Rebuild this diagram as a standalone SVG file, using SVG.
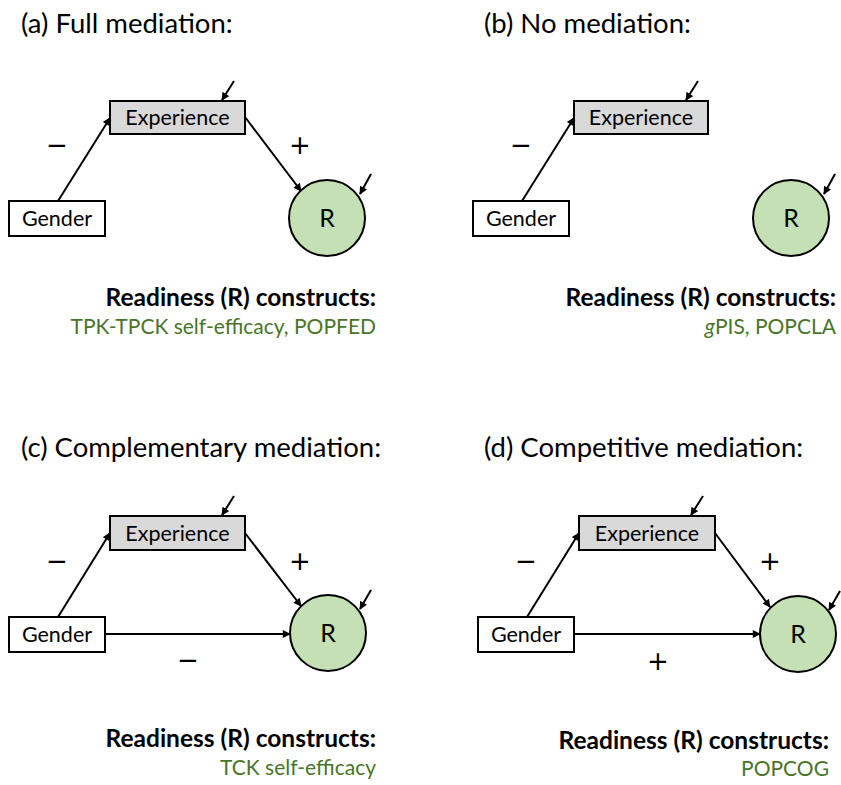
<svg xmlns="http://www.w3.org/2000/svg" width="841" height="785" viewBox="0 0 841 785">
<defs>
<marker id="ah" viewBox="0 0 10 10" refX="9" refY="5" markerWidth="9" markerHeight="8" markerUnits="userSpaceOnUse" orient="auto">
<path d="M0,0 L10,5 L0,10 z" fill="#000"/>
</marker>
<style>
text{font-family:Lato,"Noto Sans","DejaVu Sans",sans-serif;fill:#000}
.title{font-size:27.5px}
.lbl{font-size:21.5px;text-anchor:middle}
.r{font-size:25px;text-anchor:middle}
.sign{font-family:"DejaVu Sans",sans-serif;font-size:26px;text-anchor:middle}
.hd{font-size:24.5px;font-weight:bold;text-anchor:end}
.gr{font-size:21px;fill:#4a7529;text-anchor:end}
.exp{fill:#d9d9d9;stroke:#000;stroke-width:2}
.gen{fill:#fff;stroke:#000;stroke-width:2}
.circ{fill:#c5e0b4;stroke:#000;stroke-width:2}
.ln{stroke:#000;stroke-width:2;fill:none;marker-end:url(#ah)}
</style>
</defs>
<rect width="841" height="785" fill="#fff"/>

<!-- Titles -->
<text class="title" x="21" y="33">(a) Full mediation:</text>
<text class="title" x="484" y="33">(b) No mediation:</text>
<text class="title" x="21" y="457">(c) Complementary mediation:</text>
<text class="title" x="484" y="457">(d) Competitive mediation:</text>

<!-- Panel a -->
<g id="a-experience"><rect class="exp" x="110" y="101" width="135" height="33"/><text class="lbl" x="177.5" y="125">Experience</text></g>
<g id="a-gender"><rect class="gen" x="9" y="201" width="96" height="35"/><text class="lbl" x="57" y="226">Gender</text></g>
<g id="a-r"><circle class="circ" cx="327" cy="218" r="38"/><text class="r" x="327" y="227">R</text></g>
<g id="a-readiness"><text class="hd" x="376" y="306">Readiness (R) constructs:</text><text class="gr" x="376" y="334">TPK-TPCK self-efficacy, POPFED</text></g>

<!-- Panel b -->
<g id="b-experience"><rect class="exp" x="574" y="101" width="134" height="33"/><text class="lbl" x="641" y="125">Experience</text></g>
<g id="b-gender"><rect class="gen" x="473" y="201" width="96" height="35"/><text class="lbl" x="521" y="226">Gender</text></g>
<g id="b-r"><circle class="circ" cx="791" cy="218" r="38"/><text class="r" x="791" y="227">R</text></g>
<g id="b-readiness"><text class="hd" x="836" y="306">Readiness (R) constructs:</text><text class="gr" x="836" y="334"><tspan font-style="italic">g</tspan>PIS, POPCLA</text></g>

<!-- Panel c -->
<g id="c-experience"><rect class="exp" x="110" y="516" width="135" height="34"/><text class="lbl" x="177.5" y="541">Experience</text></g>
<g id="c-gender"><rect class="gen" x="9" y="617" width="96" height="35"/><text class="lbl" x="57" y="642">Gender</text></g>
<g id="c-r"><circle class="circ" cx="328" cy="633" r="38"/><text class="r" x="328" y="642">R</text></g>
<g id="c-readiness"><text class="hd" x="376" y="747">Readiness (R) constructs:</text><text class="gr" x="376" y="775">TCK self-efficacy</text></g>

<!-- Panel d -->
<g id="d-experience"><rect class="exp" x="579" y="516" width="136" height="34"/><text class="lbl" x="647" y="541">Experience</text></g>
<g id="d-gender"><rect class="gen" x="478" y="617" width="96" height="35"/><text class="lbl" x="526" y="642">Gender</text></g>
<g id="d-r"><circle class="circ" cx="798" cy="634" r="38"/><text class="r" x="798" y="643">R</text></g>
<g id="d-readiness"><text class="hd" x="829" y="749">Readiness (R) constructs:</text><text class="gr" x="829" y="776">POPCOG</text></g>

<!-- Connectors -->
<g id="connectors">
<line class="ln" x1="58" y1="201" x2="110" y2="118"/>
<line class="ln" x1="245" y1="117" x2="301" y2="191"/>
<line class="ln" x1="234" y1="81" x2="222" y2="100"/>
<line class="ln" x1="371" y1="174" x2="360" y2="194"/>

<line class="ln" x1="522" y1="201" x2="574" y2="118"/>
<line class="ln" x1="698" y1="81" x2="686" y2="100"/>
<line class="ln" x1="835" y1="174" x2="824" y2="194"/>

<line class="ln" x1="58" y1="617" x2="110" y2="533"/>
<line class="ln" x1="245" y1="533" x2="301" y2="606"/>
<line class="ln" x1="234" y1="496" x2="222" y2="515"/>
<line class="ln" x1="371" y1="590" x2="360" y2="609"/>
<line class="ln" x1="105" y1="634" x2="290" y2="634"/>

<line class="ln" x1="527" y1="617" x2="579" y2="533"/>
<line class="ln" x1="715" y1="533" x2="770" y2="607"/>
<line class="ln" x1="703" y1="496" x2="691" y2="515"/>
<line class="ln" x1="840" y1="591" x2="829" y2="610"/>
<line class="ln" x1="574" y1="634" x2="760" y2="634"/>

<text class="sign" x="57" y="154">−</text>
<text class="sign" x="300" y="154">+</text>
<text class="sign" x="521" y="154">−</text>
<text class="sign" x="57" y="570">−</text>
<text class="sign" x="300" y="570">+</text>
<text class="sign" x="188" y="669">−</text>
<text class="sign" x="526" y="570">−</text>
<text class="sign" x="770" y="570">+</text>
<text class="sign" x="658" y="670">+</text>
</g>
</svg>
